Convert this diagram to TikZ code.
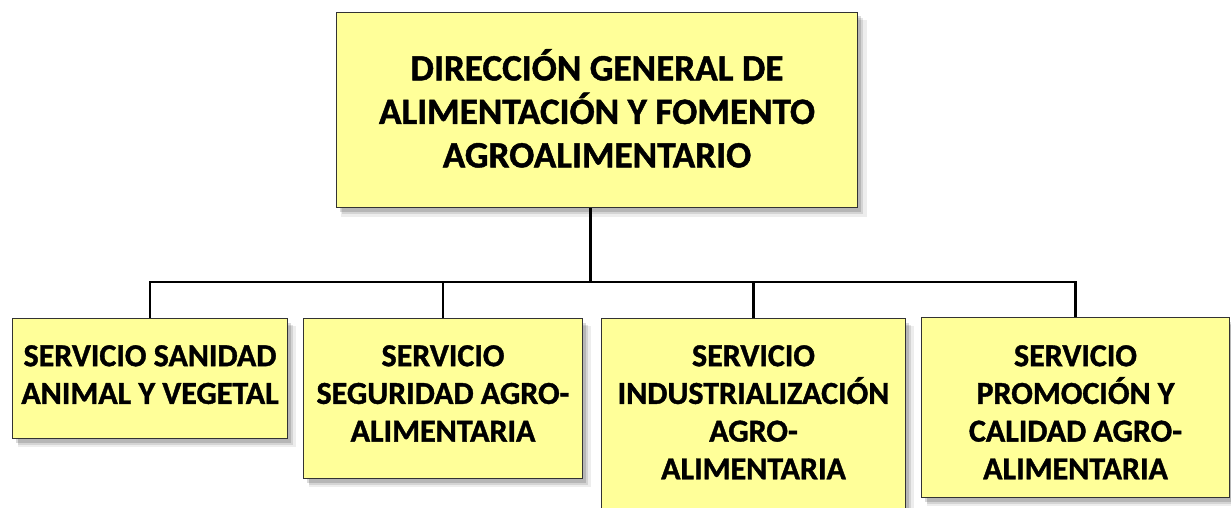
\documentclass[tikz,border=0pt]{standalone}
\usepackage{fontspec}
\setmainfont{Carlito}[BoldFeatures={FakeBold=1.2}]
\usetikzlibrary{shadows}
\definecolor{boxfill}{HTML}{FFFF99}
\begin{document}
\begin{tikzpicture}[x=1pt,y=-1pt,
  orgbox/.style={draw=black!80, line width=1pt, fill=boxfill, anchor=north west,
    inner sep=0pt,
    drop shadow={shadow xshift=7pt, shadow yshift=-8pt, shadow scale=1.01, fill=black, opacity=0.07},
    drop shadow={shadow xshift=5pt, shadow yshift=-6pt, fill=black, opacity=0.10},
    drop shadow={shadow xshift=3pt, shadow yshift=-4pt, fill=black, opacity=0.14}},
  orgtext/.style={anchor=north, align=center, inner sep=0pt,
    font=\bfseries\fontsize{32}{37.7}\selectfont},
  toptext/.style={orgtext, font=\bfseries\fontsize{37.2}{43.5}\selectfont},
  conn/.style={line width=2.3pt, black}]
\useasboundingbox[fill=white] (0,0) rectangle (1231,508);
\node[orgbox, minimum width=521pt, minimum height=195pt] (top) at (336,12) {};
\node[toptext] (topt) at ([yshift=-37pt]top.north)
  {DIRECCIÓN GENERAL DE\\ALIMENTACIÓN Y FOMENTO\\AGROALIMENTARIO};
\node[orgbox, minimum width=275pt, minimum height=120pt] (b1) at (12,318) {};
\node[orgtext] (b1t) at ([yshift=-27pt]b1.north) {SERVICIO SANIDAD\\ANIMAL Y VEGETAL};
\node[orgbox, minimum width=279pt, minimum height=160pt] (b2) at (303,318) {};
\node[orgtext] (b2t) at ([yshift=-27pt]b2.north) {SERVICIO\\SEGURIDAD AGRO-\\ALIMENTARIA};
\node[orgbox, minimum width=304pt, minimum height=200pt] (b3) at (601,318) {};
\node[orgtext] (b3t) at ([yshift=-27pt]b3.north) {SERVICIO\\INDUSTRIALIZACIÓN\\AGRO-\\ALIMENTARIA};
\node[orgbox, minimum width=308pt, minimum height=180pt] (b4) at (921,317) {};
\node[orgtext] (b4t) at ([yshift=-28pt]b4.north) {SERVICIO\\PROMOCIÓN Y\\CALIDAD AGRO-\\ALIMENTARIA};
\coordinate (bus) at (590,282);
\draw[conn] ([xshift=-6.5pt]top.south) -- ([xshift=-6.5pt]top.south |- bus);
\draw[conn] (b1.north) -- (b1.north |- bus) -- (b4.north |- bus) -- (b4.north);
\draw[conn] (b2.north) -- (b2.north |- bus);
\draw[conn] (b3.north) -- (b3.north |- bus);
\end{tikzpicture}
\end{document}
